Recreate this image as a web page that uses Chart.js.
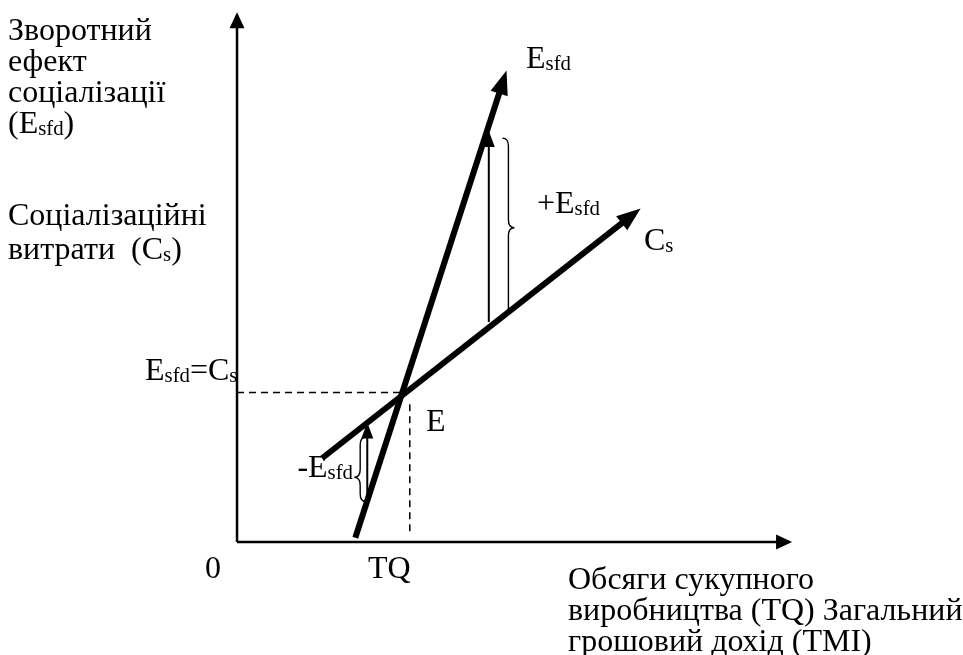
<!DOCTYPE html>
<html lang="uk">
<head>
<meta charset="utf-8">
<title>Зворотний ефект соціалізації</title>
<script src="https://cdn.jsdelivr.net/npm/chart.js@4.4.1/dist/chart.umd.min.js"></script>
<style>
  html, body { margin: 0; padding: 0; background: #fff; }
  #wrap { width: 963px; height: 655px; }
</style>
</head>
<body>
<div id="wrap"><canvas id="chart" width="963" height="655"></canvas></div>
<script>

// Schematic values: origin at 0, both axes run to about 10

const axisX = [{x: 0, y: 0}, {x: 10.13, y: 0}];
const axisY = [{x: 0, y: 0}, {x: 0, y: 9.94}];

const esfdLine = [{x: 2.17, y: 0.08}, {x: 4.9, y: 8.75}];
const csLine = [{x: 1.56, y: 1.58}, {x: 7.29, y: 6.2}];

const dashH = [{x: 0, y: 2.82}, {x: 3.0, y: 2.82}];
const dashV = [{x: 3.17, y: 2.6}, {x: 3.17, y: 0.15}];

const gainArrow = [{x: 4.62, y: 4.15}, {x: 4.62, y: 7.7}];
const lossArrow = [{x: 2.39, y: 0.8}, {x: 2.39, y: 2.2}];

// brace: x, top, bottom, tip
const gainBrace = [4.98, 7.62, 4.27, 5.93];
const lossBrace = [2.26, 1.98, 0.76, 1.22];

const fontName = "'Liberation Serif', 'Times New Roman', serif";
const fontSize = 32;


function line(data, width, dash, arrow) {
    return {
        data: data,
        showLine: true,
        borderColor: "#000",
        borderWidth: width,
        borderDash: dash || [],
        borderCapStyle: "butt",
        pointRadius: 0,
        fill: false,
        arrow: arrow || null
    }
}

// Arrowheads, braces and texts

function drawRich(ctx, parts, x, y, align) {
    let total = 0
    parts.forEach(p => {
        ctx.font = (p[1] ? fontSize * 0.65 : fontSize) + "px " + fontName
        total += ctx.measureText(p[0]).width
    })
    let cx = align === "right" ? x - total : x
    parts.forEach(p => {
        ctx.font = (p[1] ? fontSize * 0.65 : fontSize) + "px " + fontName
        ctx.fillText(p[0], cx, p[1] ? y + 2 : y)
        cx += ctx.measureText(p[0]).width
    })
}

function drawBrace(ctx, sx, sy, b, dir) {
    const x = sx.getPixelForValue(b[0])
    const top = sy.getPixelForValue(b[1])
    const bot = sy.getPixelForValue(b[2])
    const tip = sy.getPixelForValue(b[3])
    const w = 6 * dir
    ctx.beginPath()
    ctx.moveTo(x - w, top)
    ctx.quadraticCurveTo(x, top, x, top + 8)
    ctx.lineTo(x, tip - 8)
    ctx.quadraticCurveTo(x, tip, x + w, tip)
    ctx.quadraticCurveTo(x, tip, x, tip + 8)
    ctx.lineTo(x, bot - 8)
    ctx.quadraticCurveTo(x, bot, x - w, bot)
    ctx.stroke()
}

const sketch = {
    id: "sketch",
    afterDatasetsDraw(chart) {
        const ctx = chart.ctx
        const sx = chart.scales.x
        const sy = chart.scales.y
        ctx.save()
        ctx.fillStyle = "#000"
        ctx.strokeStyle = "#000"

        chart.data.datasets.forEach((ds, i) => {
            if (!ds.arrow) return
            const pts = chart.getDatasetMeta(i).data
            const a = pts[pts.length - 2]
            const b = pts[pts.length - 1]
            const ang = Math.atan2(b.y - a.y, b.x - a.x)
            const len = ds.arrow[0], half = ds.arrow[1], over = ds.arrow[2]
            const tx = b.x + over * Math.cos(ang)
            const ty = b.y + over * Math.sin(ang)
            ctx.beginPath()
            ctx.moveTo(tx, ty)
            ctx.lineTo(tx - len * Math.cos(ang) + half * Math.sin(ang), ty - len * Math.sin(ang) - half * Math.cos(ang))
            ctx.lineTo(tx - len * Math.cos(ang) - half * Math.sin(ang), ty - len * Math.sin(ang) + half * Math.cos(ang))
            ctx.closePath()
            ctx.fill()
        })

        ctx.lineWidth = 1.4
        drawBrace(ctx, sx, sy, gainBrace, 1)
        drawBrace(ctx, sx, sy, lossBrace, -1)

        ctx.textBaseline = "alphabetic"
        drawRich(ctx, [["Зворотний"]], 8, 40)
        drawRich(ctx, [["ефект"]], 8, 71)
        drawRich(ctx, [["соціалізації"]], 8, 102)
        drawRich(ctx, [["(E"], ["sfd", 1], [")"]], 8, 133)
        drawRich(ctx, [["Соціалізаційні"]], 8, 225)
        drawRich(ctx, [["витрати  (C"], ["s", 1], [")"]], 8, 259)
        drawRich(ctx, [["E"], ["sfd", 1], ["=C"], ["s", 1]], 145, 380)
        drawRich(ctx, [["E"]], 426, 431)
        drawRich(ctx, [["-E"], ["sfd", 1]], 353, 477, "right")
        drawRich(ctx, [["+E"], ["sfd", 1]], 537, 213)
        drawRich(ctx, [["E"], ["sfd", 1]], 526, 68)
        drawRich(ctx, [["C"], ["s", 1]], 644, 250)
        drawRich(ctx, [["0"]], 205, 578)
        drawRich(ctx, [["TQ"]], 368, 578)
        drawRich(ctx, [["Обсяги сукупного"]], 568, 589)
        drawRich(ctx, [["виробництва (TQ) Загальний"]], 568, 620)
        drawRich(ctx, [["грошовий дохід (TMI)"]], 568, 651)
        ctx.restore()
    }
}

const chart = document.querySelector("#chart").getContext("2d")

new Chart(chart, {
    type: "scatter",
    data: {
        datasets: [
            line(axisX, 2.5, null, [16, 7.5, 3]),
            line(axisY, 2.5, null, [16, 7.5, 3]),
            line(dashH, 1.5, [7, 5]),
            line(dashV, 1.5, [7, 5]),
            line(gainArrow, 2, null, [16, 6, 3]),
            line(lossArrow, 2, null, [16, 6, 3]),
            line(esfdLine, 6, null, [24, 9, 8]),
            line(csLine, 6, null, [24, 9, 8])
        ]
    },
    options: {
        responsive: false,
        animation: false,
        layout: { padding: 0 },
        plugins: {
            legend: { display: false },
            tooltip: { enabled: false }
        },
        scales: {
            x: { type: "linear", min: -4.349, max: 13.321, display: false },
            y: { type: "linear", min: -2.132, max: 10.226, display: false }
        }
    },
    plugins: [sketch]
})

</script>
</body>
</html>
